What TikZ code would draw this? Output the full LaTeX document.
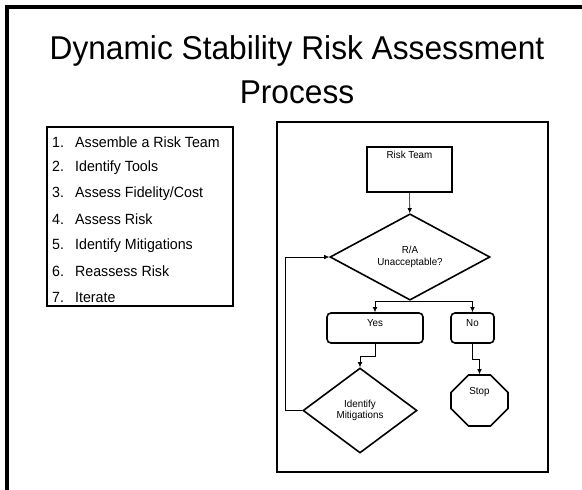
\documentclass[tikz,border=0pt]{standalone}
\usepackage{fontspec}
\setmainfont[FakeStretch=0.96]{Liberation Sans}
\usetikzlibrary{shapes.geometric,shapes.misc,arrows.meta}

\begin{document}
\begin{tikzpicture}[x=1pt, y=-1pt, >={Latex[length=5pt,width=4.5pt]},
  every node/.style = {align=center, font=\fontsize{10.2}{11.5}\selectfont},
  stepbox/.style = {draw, line width=1.6pt, inner sep=2pt,
    text height=7pt},
  roundbox/.style = {stepbox, rounded corners=4pt},
  decision/.style = {draw, shape=diamond, line width=1.6pt, inner sep=0pt},
  stopsign/.style = {draw, shape=chamfered rectangle,
    chamfered rectangle xsep=14pt, line width=1.6pt, inner sep=1pt,
    text height=7pt},
  listitem/.style = {anchor=west, inner sep=0pt,
    font=\fontsize{14.8}{16}\selectfont},
  link/.style = {->, line width=0.6pt}]
  \useasboundingbox (0,0) rectangle (582,490);
  % slide edge
  \draw[line width=3.5pt] (582,7) -- (7,7) -- (7,490);

  \node[font=\fontsize{33}{44}\selectfont] (title) at (297,70)
    {Dynamic Stability Risk Assessment\\Process};

  % list of steps
  \draw[line width=1.2pt] (47,127) rectangle (233,306);
  \foreach \txt [count=\i] in {Assemble a Risk Team, Identify Tools,
      {Assess Fidelity/Cost}, Assess Risk, Identify Mitigations,
      Reassess Risk, Iterate}
    \node[listitem] (item\i) at (52,{142+(\i-1)*25.9})
      {\makebox[23pt][l]{\i.}\txt};

  % flow chart
  \draw[line width=1.5pt] (277,122) rectangle (548,472);

  \node[stepbox, minimum width=85pt, minimum height=45pt, text depth=30pt]
    (team) at (409.5,169.5) {Risk Team};
  \node[decision, minimum width=160pt, minimum height=56pt]
    (accept) at (410,257) {R/A\\Unacceptable?};
  \node[roundbox, minimum width=96pt, minimum height=30pt, text depth=10pt]
    (yes) at (375,328) {Yes};
  \node[roundbox, minimum width=43pt, minimum height=30pt, text depth=10pt]
    (no) at (472.5,328) {No};
  \node[decision, minimum width=114pt, minimum height=85pt]
    (mitig) at (360,410.5) {Identify\\Mitigations};
  \node[stopsign, minimum width=57pt, minimum height=51pt, text depth=19pt]
    (stop) at (479.5,400.5) {Stop};

  \draw[link] (team) -- (accept);
  \draw[link] (accept.south) -| (yes.north);
  \draw[link] (accept.south) -| (no.north);
  \draw[link] (yes.south) -- ++(0,12) -| (mitig.north);
  \draw[link] (no.south) -- ++(0,15) -| (stop.north);
  \draw[link] (mitig.west) -- ++(-17,0) |- (accept.west);
\end{tikzpicture}
\end{document}
